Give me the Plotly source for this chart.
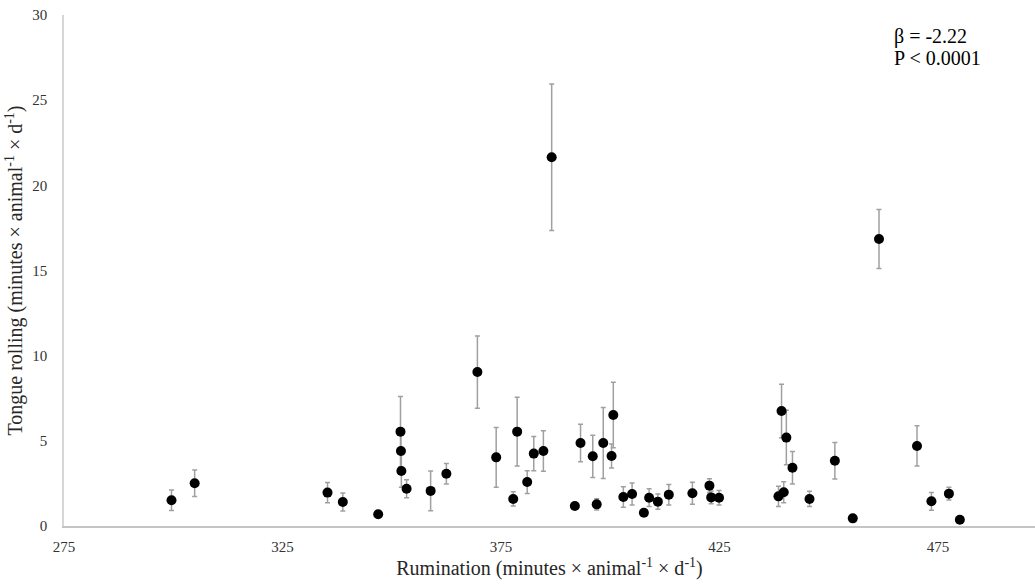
import plotly.graph_objects as go

rumination = [299.6, 304.9, 335.3, 338.8, 346.9, 352.0, 352.1, 352.2, 353.4, 358.9,
              362.5, 369.6, 373.9, 377.8, 378.7, 381.0, 382.5, 384.7, 386.6, 391.9,
              393.2, 396.0, 396.9, 398.4, 400.3, 400.7, 403.0, 405.0, 407.7, 408.9,
              410.9, 413.4, 418.8, 422.7, 423.1, 424.9, 438.5, 439.2, 439.7, 440.3,
              441.7, 445.6, 451.4, 455.5, 461.5, 470.2, 473.5, 477.5, 480.0]
tongue_rolling = [1.51, 2.51, 1.96, 1.41, 0.69, 5.54, 4.40, 3.23, 2.19, 2.06,
                  3.07, 9.04, 4.03, 1.59, 5.54, 2.58, 4.25, 4.40, 21.65, 1.17,
                  4.87, 4.09, 1.27, 4.87, 4.11, 6.52, 1.70, 1.88, 0.78, 1.66,
                  1.43, 1.84, 1.92, 2.37, 1.68, 1.66, 1.74, 6.75, 1.98, 5.19,
                  3.42, 1.59, 3.83, 0.45, 16.85, 4.70, 1.45, 1.90, 0.37]
sem = [0.60, 0.78, 0.60, 0.53, 0.0, 2.07, 1.00, 0.95, 0.53, 1.17,
       0.60, 2.12, 1.76, 0.42, 2.02, 0.67, 1.00, 1.19, 4.30, 0.0,
       1.10, 1.24, 0.33, 2.08, 0.70, 1.92, 0.60, 0.65, 0.0, 0.52,
       0.45, 0.60, 0.65, 0.41, 0.38, 0.42, 0.60, 1.57, 0.62, 1.60,
       0.95, 0.45, 1.07, 0.0, 1.73, 1.18, 0.52, 0.37, 0.0]

x_ticks = [275, 325, 375, 425, 475]
y_ticks = [0, 5, 10, 15, 20, 25, 30]

FONT = "Liberation Serif, Times New Roman, serif"
x_title = "Rumination (minutes × animal<sup>-1</sup> × d<sup>-1</sup>)"
y_title = "Tongue rolling (minutes × animal<sup>-1</sup> × d<sup>-1</sup>)"

fig = go.Figure()
fig.add_trace(go.Scatter(
    x=rumination, y=tongue_rolling, mode="markers",
    marker=dict(color="black", size=10),
    error_y=dict(type="data", array=sem, visible=True,
                 color="#a0a0a0", thickness=1.5, width=2.5),
    showlegend=False,
))

fig.update_layout(
    width=1035, height=586,
    margin=dict(l=64, r=0, t=15, b=60),
    paper_bgcolor="white", plot_bgcolor="white",
    font=dict(family=FONT, color="#262626", size=14),
    xaxis=dict(range=[275, 497.2], tickvals=x_ticks, showgrid=False, zeroline=False,
               showline=True, linecolor="#c4c4c4", linewidth=1.5, ticks="",
               ticklabelstandoff=6, tickfont=dict(size=15, color="#333333"),
               title=dict(text=x_title, font=dict(size=20, color="#262626"), standoff=7)),
    yaxis=dict(range=[0, 30], tickvals=y_ticks, showgrid=False, zeroline=False,
               showline=True, linecolor="#d6d6d6", linewidth=1.5, ticks="",
               ticklabelstandoff=12, tickfont=dict(size=15, color="#333333"),
               title=dict(text=y_title, font=dict(size=20, color="#262626"), standoff=4)),
    annotations=[
        dict(x=0.8525, y=0.9589, xref="paper", yref="paper", xanchor="left", yanchor="middle",
             text="β = -2.22", showarrow=False, align="left",
             font=dict(size=20, color="black", family=FONT)),
        dict(x=0.8525, y=0.9159, xref="paper", yref="paper", xanchor="left", yanchor="middle",
             text="P &lt; 0.0001", showarrow=False, align="left",
             font=dict(size=20, color="black", family=FONT)),
    ],
)

fig.write_html("out.html")
